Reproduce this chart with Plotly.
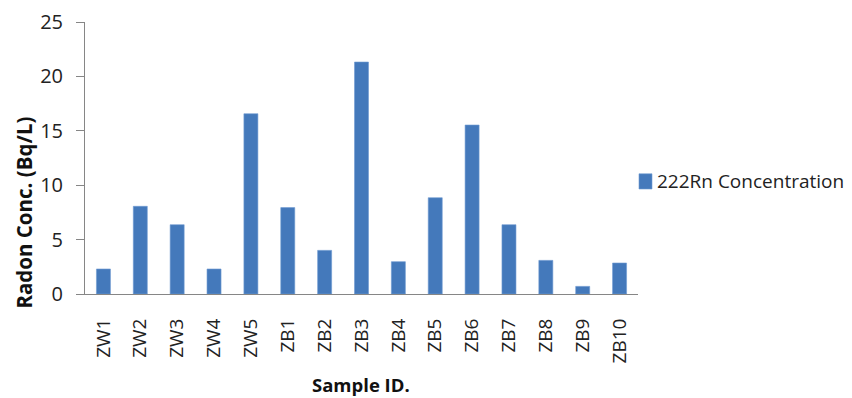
import plotly.graph_objects as go

samples = ["ZW1", "ZW2", "ZW3", "ZW4", "ZW5", "ZB1", "ZB2", "ZB3", "ZB4", "ZB5",
           "ZB6", "ZB7", "ZB8", "ZB9", "ZB10"]
radon = [2.3, 8.06, 6.37, 2.3, 16.57, 7.94, 4.01, 21.32, 2.97, 8.85,
         15.53, 6.37, 3.09, 0.7, 2.85]
series_name = "222Rn Concentration"
y_ticks = [0, 5, 10, 15, 20, 25]

FONT = "Open Sans"
AXIS_COLOR = "#868686"
BAR_COLOR = "#4479BB"

fig = go.Figure()
fig.add_trace(go.Bar(
    x=samples, y=radon, name=series_name, showlegend=False,
    marker=dict(color=BAR_COLOR, line=dict(color="#6E9BD2", width=0.6)),
))

# page body has an 8px default margin, so the figure is 8px smaller and shifted
fig.update_layout(
    width=844, height=390,
    margin=dict(l=77, r=214, t=14, b=104),
    paper_bgcolor="white", plot_bgcolor="white",
    bargap=0.62,
    showlegend=False,
    font=dict(family=FONT, color="#222222"),
)

fig.update_yaxes(
    range=[0, 25], tickvals=y_ticks, showgrid=False, zeroline=False,
    showline=True, linecolor=AXIS_COLOR, linewidth=1, automargin=False,
    ticks="outside", ticklen=8, tickcolor=AXIS_COLOR, tickwidth=1,
    ticklabelstandoff=9,
    tickfont=dict(family=FONT, size=20, color="#222222"),
)
fig.update_xaxes(
    showgrid=False, zeroline=False, showline=True, linecolor=AXIS_COLOR,
    linewidth=1, ticks="", tickangle=-90, ticklabelstandoff=16, automargin=False,
    tickfont=dict(family=FONT, size=19, color="#222222"),
)

# legend (drawn as a key square plus label, to the right of the plot area)
fig.add_shape(
    type="rect", xref="paper", yref="paper",
    x0=1.0018, x1=1.0253, y0=0.386, y1=0.442,
    fillcolor=BAR_COLOR, line=dict(color="#6E9BD2", width=0.6),
)
fig.add_annotation(
    text=series_name, xref="paper", yref="paper",
    x=1.031, y=0.4154, xanchor="left", yanchor="middle",
    showarrow=False, font=dict(family=FONT, size=19, color="#222222"),
)

fig.add_annotation(
    text="<b>Radon Conc. (Bq/L)</b>", xref="paper", yref="paper",
    x=-0.110, y=0.30, xanchor="center", yanchor="middle", textangle=-90,
    showarrow=False, font=dict(family=FONT, size=20.5, color="#111111"),
)
fig.add_annotation(
    text="<b>Sample ID.</b>", xref="paper", yref="paper",
    x=0.499, y=-0.331, xanchor="center", yanchor="middle",
    showarrow=False, font=dict(family=FONT, size=18.5, color="#111111"),
)

fig.write_html("out.html")
